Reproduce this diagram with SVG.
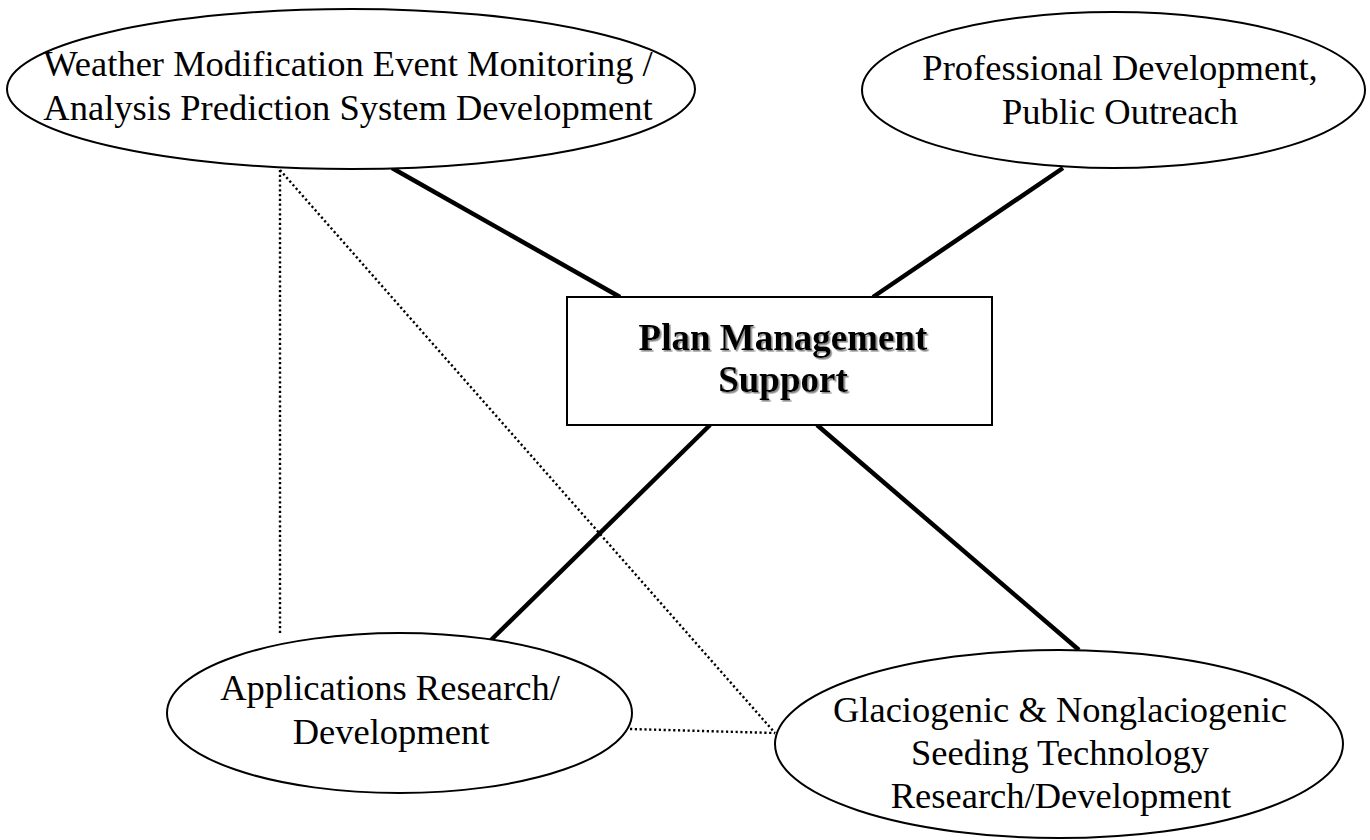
<svg xmlns="http://www.w3.org/2000/svg" width="1370" height="840" viewBox="0 0 1370 840">
<style>
  .node ellipse { fill: #fff; stroke: #000; stroke-width: 2; }
  .node rect { fill: #fff; stroke: #000; stroke-width: 2; }
  .lbl { font-family: "Liberation Serif", "Times New Roman", serif; font-size: 36.5px; fill: #000; text-anchor: middle; }
  .title { font-family: "Liberation Serif", "Times New Roman", serif; font-size: 37px; font-weight: bold; fill: #000; text-anchor: middle; }
  .solid { stroke: #000; stroke-width: 4.5; fill: none; }
  .dotted { stroke: #000; stroke-width: 2.4; stroke-dasharray: 2.2 2.6; fill: none; }
</style>
<defs>
  <filter id="shadow" x="-10%" y="-20%" width="120%" height="140%">
    <feDropShadow dx="1.6" dy="1.6" stdDeviation="0.6" flood-color="#8a8a8a" flood-opacity="1"/>
  </filter>
</defs>
<rect x="0" y="0" width="1370" height="840" fill="#fff"/>
<g id="connectors">
  <line class="solid" x1="392" y1="168" x2="620" y2="297"/>
  <line class="solid" x1="1063" y1="168" x2="873" y2="297"/>
  <line class="solid" x1="710" y1="425" x2="489" y2="642"/>
  <line class="solid" x1="817" y1="425" x2="1079" y2="650"/>
  <line class="dotted" x1="280" y1="170" x2="280" y2="633"/>
  <line class="dotted" x1="280" y1="170" x2="775" y2="733"/>
  <line class="dotted" x1="630" y1="729" x2="775" y2="733"/>
</g>
<g id="node-weather" class="node">
  <ellipse cx="351" cy="89" rx="344" ry="80"/>
  <text class="lbl" y="76"><tspan x="348">Weather Modification Event Monitoring /</tspan><tspan x="348" y="120">Analysis Prediction System Development</tspan></text>
</g>
<g id="node-professional" class="node">
  <ellipse cx="1113.5" cy="90" rx="251.5" ry="78"/>
  <text class="lbl" y="80"><tspan x="1120">Professional Development,</tspan><tspan x="1120" y="124">Public Outreach</tspan></text>
</g>
<g id="node-plan" class="node">
  <rect x="567" y="297" width="425" height="128"/>
  <text class="title" y="350" filter="url(#shadow)"><tspan x="783">Plan Management</tspan><tspan x="783" y="392">Support</tspan></text>
</g>
<g id="node-applications" class="node">
  <ellipse cx="399.5" cy="713" rx="232.5" ry="80"/>
  <text class="lbl" y="700"><tspan x="390">Applications Research/</tspan><tspan x="391" y="744">Development</tspan></text>
</g>
<g id="node-glaciogenic" class="node">
  <ellipse cx="1059" cy="744" rx="284" ry="94"/>
  <text class="lbl" y="722"><tspan x="1060">Glaciogenic &amp; Nonglaciogenic</tspan><tspan x="1060" y="765">Seeding Technology</tspan><tspan x="1061" y="808">Research/Development</tspan></text>
</g>
</svg>
